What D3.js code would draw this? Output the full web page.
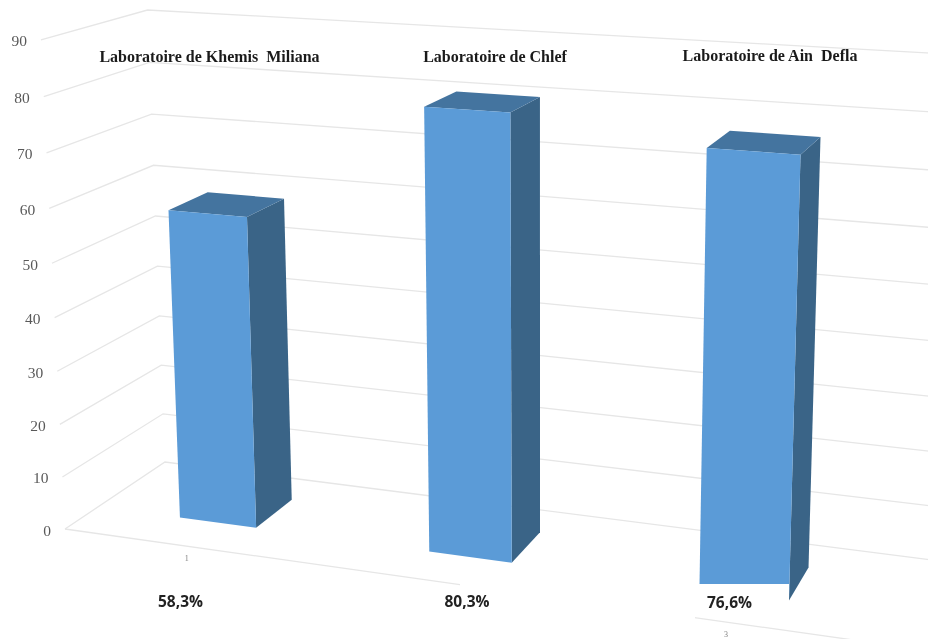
<!DOCTYPE html>
<html><head><meta charset="utf-8">
<script src="https://cdnjs.cloudflare.com/ajax/libs/d3/7.8.5/d3.min.js"></script>
<style>html,body{margin:0;padding:0;background:#fff}svg{display:block}</style>
</head><body><svg id="c" width="928" height="639"></svg>
<script>
const categories = ["Laboratoire de Khemis  Miliana", "Laboratoire de Chlef", "Laboratoire de Ain  Defla"];
const values = [58.3, 80.3, 76.6];
const valueLabels = ["58,3%", "80,3%", "76,6%"];
// tick "2" is hidden behind a white text box in the reference, so only these two show
const categoryTicks = ["1", "3"];
const categoryTickIndex = [0, 2];
const valueTicks = [0, 10, 20, 30, 40, 50, 60, 70, 80, 90];

// 3D perspective built from linear scales: category position u, value v, depth d
const xU = d3.scaleLinear([0, 1], [0, 236]), xV = d3.scaleLinear([0, 90], [0, -26]), xD = d3.scaleLinear([0, 1], [65, 179]);
const yU = d3.scaleLinear([0, 1], [0, 12.9]), yV = d3.scaleLinear([0, 90], [0, -491]), yD = d3.scaleLinear([0, 1], [529, 501.4]);
const wU = d3.scaleLinear([0, 1], [0, -0.0391]), wV = d3.scaleLinear([0, 90], [0, -0.0481]), wD = d3.scaleLinear([0, 1], [1, 1.0852]);
const project = (u, v, d) => {
  const w = wD(d) + wU(u) + wV(v);
  return [(xD(d) + xU(u) + xV(v)) / w, (yD(d) + yU(u) + yV(v)) / w];
};
const U_MAX = 3.4, HALF = 0.157, D_FRONT = 0.32, D_BACK = 0.72;
const line = d3.line();
const poly = pts => line(pts) + "Z";

const svg = d3.select("#c");
const root = svg.append("g").style("filter", "blur(0.7px)");

// gridlines: side wall then back wall
root.append("g").selectAll("path").data(valueTicks).join("path")
  .attr("d", v => line([project(0, v, 0), project(0, v, 1), project(U_MAX, v, 1)]))
  .attr("fill", "none").attr("stroke", "#e6e6e6").attr("stroke-width", 1.3);
// floor front edge
root.append("path").attr("d", line([project(0, 0, 0), project(U_MAX, 0, 0)]))
  .attr("fill", "none").attr("stroke", "#e6e6e6").attr("stroke-width", 1.3);

// category tick labels
root.append("g").selectAll("text").data(categoryTicks).join("text")
  .attr("x", (t, i) => project(categoryTickIndex[i] + 0.5, 0, 0)[0])
  .attr("y", (t, i) => project(categoryTickIndex[i] + 0.5, 0, 0)[1] + 15)
  .attr("text-anchor", "middle").attr("font-family", "Liberation Serif").attr("font-size", 8).attr("fill", "#808080")
  .text(t => t);

// bars
const bars = root.append("g").selectAll("g").data(values).join("g");
bars.append("path").attr("fill", "#3A6487")
  .attr("d", (v, i) => poly([project(i + .5 + HALF, 0, D_FRONT), project(i + .5 + HALF, v, D_FRONT), project(i + .5 + HALF, v, D_BACK), project(i + .5 + HALF, 0, D_BACK)]));
bars.append("path").attr("fill", "#44749F")
  .attr("d", (v, i) => poly([project(i + .5 - HALF, v, D_FRONT), project(i + .5 + HALF, v, D_FRONT), project(i + .5 + HALF, v, D_BACK), project(i + .5 - HALF, v, D_BACK)]));
bars.append("path").attr("fill", "#5B9BD7")
  .attr("d", (v, i) => poly([project(i + .5 - HALF, 0, D_FRONT), project(i + .5 + HALF, 0, D_FRONT), project(i + .5 + HALF, v, D_FRONT), project(i + .5 - HALF, v, D_FRONT)]));

// white text boxes sitting over the chart, as pasted in the original
const textBoxes = [{x: 460, y: 575, width: 235, height: 50}, {x: 695, y: 584, width: 94, height: 28}];
root.append("g").selectAll("rect").data(textBoxes).join("rect")
  .attr("x", d => d.x).attr("y", d => d.y).attr("width", d => d.width).attr("height", d => d.height).attr("fill", "#fff");

// value axis labels
root.append("g").selectAll("text").data(valueTicks).join("text")
  .attr("x", v => project(0, v, 0)[0] - 14)
  .attr("y", v => project(0, v, 0)[1] + 6.5)
  .attr("text-anchor", "end").attr("font-family", "Liberation Serif").attr("font-size", 15.5).attr("fill", "#595959")
  .text(v => v);

// titles and percentages
const titleX = [209.5, 495, 770], titleY = [62, 62, 61];
root.append("g").selectAll("text").data(categories).join("text")
  .attr("x", (t, i) => titleX[i]).attr("y", (t, i) => titleY[i])
  .attr("text-anchor", "middle").attr("font-family", "Liberation Serif").attr("font-weight", "bold").attr("font-size", 16).attr("fill", "#1a1a1a")
  .style("white-space", "pre")
  .text(t => t);
const pctX = [180.5, 467, 729.5], pctY = [606.5, 606.5, 607.5];
root.append("g").selectAll("text").data(valueLabels).join("text")
  .attr("x", (t, i) => pctX[i]).attr("y", (t, i) => pctY[i])
  .attr("text-anchor", "middle").attr("font-family", "Open Sans").attr("font-weight", "bold").attr("font-size", 15.5).attr("fill", "#222")
  .text(t => t);
</script></body></html>
